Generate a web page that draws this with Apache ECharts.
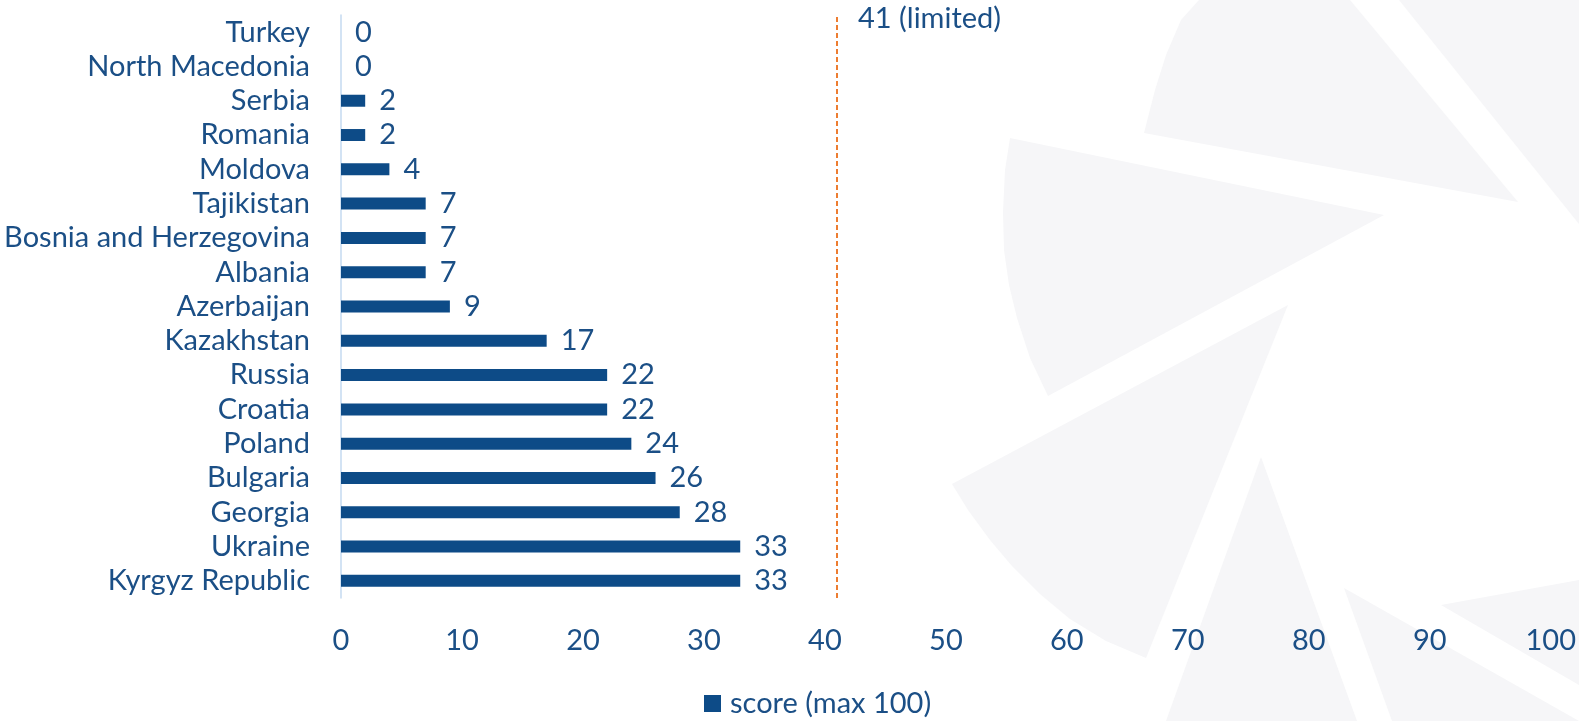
<!DOCTYPE html>
<html>
<head>
<meta charset="utf-8">
<style>
  html, body { margin: 0; padding: 0; background: #ffffff; }
  #chart { width: 1579px; height: 721px; }
</style>
<script src="https://cdn.jsdelivr.net/npm/echarts@6/dist/echarts.min.js"></script>
</head>
<body>
<div id="chart"></div>
<script>
// Countries listed bottom-up (the category axis runs from the bottom)
const countries = [
  'Kyrgyz Republic', 'Ukraine', 'Georgia', 'Bulgaria', 'Poland', 'Croatia',
  'Russia', 'Kazakhstan', 'Azerbaijan', 'Albania', 'Bosnia and Herzegovina',
  'Tajikistan', 'Moldova', 'Romania', 'Serbia', 'North Macedonia', 'Turkey'
];
const scores = [33, 33, 28, 26, 24, 22, 22, 17, 9, 7, 7, 7, 4, 2, 2, 0, 0];
const seriesName = 'score (max 100)';
const limitValue = 41;
const limitText = 'limited';

const textColor = '#1b4f86';
const barColor = '#0d4b87';
const shade = '#f6f6f8';
const font = 'Lato';
const fontSize = 29;

// Light aperture-style backdrop on the right-hand side
const blades = [
  [[1144,133],[1155,90],[1166,55],[1181,20],[1199,0],[1350,0],[1518,202]],
  [[1010,138],[1005,170],[1003,212],[1004,250],[1009,285],[1017,318],[1030,358],[1048,396],[1384,215]],
  [[1288,305],[952,484],[968,510],[990,540],[1012,566],[1040,594],[1070,619],[1106,641],[1146,658]],
  [[1261,457],[1166,721],[1357,721]],
  [[1344,588],[1392,721],[1579,721]],
  [[1441,605],[1579,580],[1579,685]],
  [[1399,0],[1579,224],[1579,0]]
];

const chart = echarts.init(document.getElementById('chart'));
chart.setOption({
  animation: false,
  backgroundColor: '#ffffff',
  graphic: blades.map(pts => ({
    type: 'polygon',
    z: -10,
    silent: true,
    shape: { points: pts },
    style: { fill: shade }
  })),
  grid: { left: 341, right: 28, top: 15, bottom: 123, containLabel: false },
  legend: {
    data: [seriesName],
    top: 684,
    left: 699,
    itemWidth: 17,
    itemHeight: 17,
    icon: 'rect',
    textStyle: { color: textColor, fontFamily: font, fontSize: fontSize, padding: [0, 0, 0, 4] }
  },
  xAxis: {
    type: 'value',
    min: 0,
    max: 100,
    interval: 10,
    axisLine: { show: false },
    axisTick: { show: false },
    splitLine: { show: false },
    axisLabel: { color: textColor, fontFamily: font, fontSize: fontSize, margin: 28 }
  },
  yAxis: {
    type: 'category',
    data: countries,
    axisTick: { show: false },
    axisLine: { show: true, lineStyle: { color: '#c5daf0', width: 1.5 } },
    axisLabel: { interval: 0, color: textColor, fontFamily: font, fontSize: fontSize, margin: 31 }
  },
  series: [{
    name: seriesName,
    type: 'bar',
    data: scores,
    barWidth: 12,
    itemStyle: { color: barColor },
    label: {
      show: true,
      position: 'right',
      distance: 14,
      color: textColor,
      fontFamily: font,
      fontSize: fontSize
    },
    markLine: {
      silent: true,
      symbol: 'none',
      lineStyle: { color: '#ed7d31', type: [5, 3], width: 2, opacity: 1 },
      label: {
        show: true,
        position: 'end',
        distance: -4,
        align: 'left',
        verticalAlign: 'middle',
        padding: [0, 0, 0, 21],
        color: textColor,
        fontFamily: font,
        fontSize: fontSize,
        formatter: p => p.value + ' (' + limitText + ')'
      },
      data: [{ xAxis: limitValue }]
    }
  }]
});
</script>
</body>
</html>
